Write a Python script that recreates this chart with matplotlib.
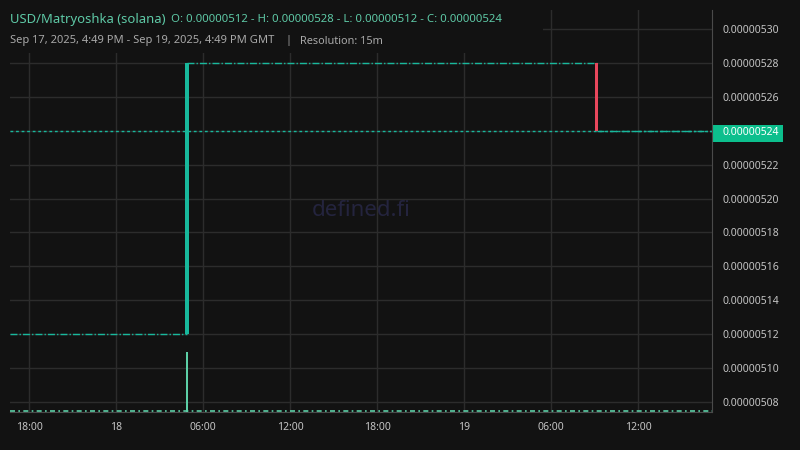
import numpy as np
import pandas as pd
import matplotlib
matplotlib.use("Agg")
import matplotlib.pyplot as plt
import matplotlib.dates as mdates
from matplotlib.patches import Rectangle

plt.rcParams["font.family"] = ["Noto Sans", "DejaVu Sans"]

# ---------------- data ----------------
start_time = "2025-09-17 16:40"
end_time = "2025-09-19 17:05"
candle_times = ["2025-09-18 04:45", "2025-09-19 09:00"]
candle_open = [5.12e-6, 5.28e-6]
candle_close = [5.28e-6, 5.24e-6]
volume_times = ["2025-09-18 04:45"]
volume_values = [1.0]
last_price = 5.24e-6
title = "USD/Matryoshka (solana)"
ohlc_text = "O: 0.00000512 - H: 0.00000528 - L: 0.00000512 - C: 0.00000524"
subtitle = "Sep 17, 2025, 4:49 PM - Sep 19, 2025, 4:49 PM GMT"
resolution = "Resolution: 15m"
yticks = [5.08e-6, 5.10e-6, 5.12e-6, 5.14e-6, 5.16e-6, 5.18e-6,
          5.20e-6, 5.22e-6, 5.24e-6, 5.26e-6, 5.28e-6, 5.30e-6]
xtick_times = ["2025-09-17 18:00", "2025-09-18 00:00", "2025-09-18 06:00",
               "2025-09-18 12:00", "2025-09-18 18:00", "2025-09-19 00:00",
               "2025-09-19 06:00", "2025-09-19 12:00"]
xtick_labels = ["18:00", "18", "06:00", "12:00", "18:00", "19", "06:00", "12:00"]

BG = "#121212"
GRID = "#2c2c2c"
UP = "#18b89c"
DOWN = "#e8475c"
VOL = "#5ccfa6"
TXT = "#c4c4c4"
TEAL_TXT = "#5ec9a6"

t0 = mdates.date2num(pd.Timestamp(start_time))
t1 = mdates.date2num(pd.Timestamp(end_time))
ct = mdates.date2num(pd.to_datetime(candle_times))
vt = mdates.date2num(pd.to_datetime(volume_times))
bar_w = 15 / (24 * 60)

fig = plt.figure(figsize=(8, 4.5), dpi=100, facecolor=BG)
rect = [10 / 800, 38 / 450, 702 / 800, 402 / 450]
ax = fig.add_axes(rect)
ax.set_facecolor(BG)

# flat price segments between candles
seg_x = [t0] + list(ct + bar_w / 2) + [t1]
seg_y = [candle_open[0]] + list(candle_close)
for i in range(len(seg_y)):
    ax.plot([seg_x[i], seg_x[i + 1]], [seg_y[i], seg_y[i]], color=UP, lw=1,
            ls=(0, (5, 1.5, 1, 1.5)), zorder=2)

# candles
for t, o, c in zip(ct, candle_open, candle_close):
    col = UP if c >= o else DOWN
    ax.bar(t + bar_w / 2, abs(c - o), bottom=min(o, c), width=bar_w * 0.9,
           color=col, zorder=3)

# last price line
ax.axhline(last_price, color=UP, lw=1, ls=(0, (2, 2)), zorder=2)

ax.set_xlim(t0, t1)
ax.set_ylim(5.0741e-6, 5.3112e-6)
ax.set_yticks(yticks)
ax.yaxis.tick_right()
ax.set_yticklabels([f"{v:.8f}" for v in yticks])
ax.set_xticks(mdates.date2num(pd.to_datetime(xtick_times)))
ax.set_xticklabels(xtick_labels)
for lab in ax.get_xticklabels():
    if lab.get_text() in ("18", "19"):
        lab.set_fontweight("bold")
ax.tick_params(axis="both", length=0, colors=TXT, labelsize=7.5)
ax.tick_params(axis="y", pad=7.5)
ax.tick_params(axis="x", pad=7)
ax.grid(True, color=GRID, lw=1)
ax.set_axisbelow(True)
for s in ["left", "top"]:
    ax.spines[s].set_visible(False)
for s in ["right", "bottom"]:
    ax.spines[s].set_color("#4a4a4a")

# last price tag on the axis
for lab in ax.get_yticklabels():
    if lab.get_text() == f"{last_price:.8f}":
        lab.set_color("white")
ax.add_patch(Rectangle((712 / 800, 1 - 141.7 / 450), 71 / 800, 16.7 / 450,
                       transform=fig.transFigure, facecolor="#0cbf8d",
                       edgecolor="none", clip_on=False, zorder=0.3))

# volume bars on their own transparent axes
axv = fig.add_axes(rect, sharex=ax)
axv.patch.set_visible(False)
axv.set_ylim(0, max(volume_values) * 402 / 60)
axv.bar(vt + bar_w / 2, volume_values, width=bar_w * 0.6, color=VOL, zorder=3)
axv.axhline(0.012, color=VOL, lw=1.2, ls=(0, (3, 2, 1, 2)), zorder=2)
axv.axis("off")

# watermark
ax.text(0.5, 0.50, "defined.fi", transform=ax.transAxes, ha="center",
        va="center", fontsize=16, color="#24243e", zorder=1)

# legend background + header texts
ax.add_patch(Rectangle((0, 1 - 53 / 450), 543 / 800, 53 / 450,
                       transform=fig.transFigure, facecolor=BG,
                       edgecolor="none", clip_on=False, zorder=1.5))
fig.text(10 / 800, 1 - 20 / 450, title, color=TEAL_TXT, fontsize=9.4,
         va="center", ha="left")
fig.text(171 / 800, 1 - 20 / 450, ohlc_text, color=TEAL_TXT, fontsize=8.2,
         va="center", ha="left")
fig.text(10 / 800, 1 - 41 / 450, subtitle, color="#a8a8a8", fontsize=8,
         va="center", ha="left")
fig.text(288 / 800, 1 - 41 / 450, "|", color="#a8a8a8", fontsize=8,
         va="center", ha="center")
fig.text(300 / 800, 1 - 41 / 450, resolution, color="#a8a8a8", fontsize=7.9,
         va="center", ha="left")

fig.savefig("out.png", dpi=100, facecolor=BG)
